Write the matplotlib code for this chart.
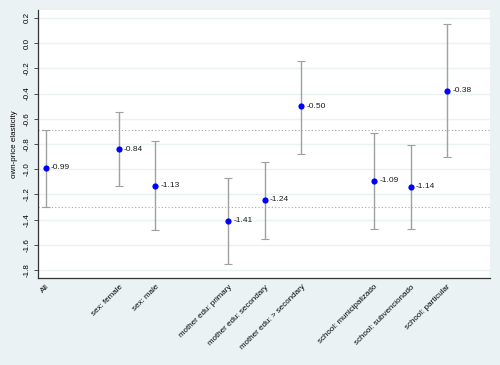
import numpy as np
import matplotlib.pyplot as plt

# ---------------------------------
# Data
# ---------------------------------
groups = ["All", "sex: female", "sex: male",
          "mother edu: primary", "mother edu: secondary", "mother edu: > secondary",
          "school: municipalizado", "school: subvencionado", "school: particular"]
positions = [0, 2, 3, 5, 6, 7, 9, 10, 11]
estimate = [-0.99, -0.84, -1.13, -1.41, -1.24, -0.50, -1.09, -1.14, -0.38]
ci_low = [-1.30, -1.13, -1.48, -1.75, -1.55, -0.88, -1.47, -1.47, -0.90]
ci_high = [-0.69, -0.55, -0.78, -1.07, -0.94, -0.14, -0.71, -0.81, 0.15]
yticks = [0.2, 0.0, -0.2, -0.4, -0.6, -0.8, -1.0, -1.2, -1.4, -1.6, -1.8]

plt.rcParams['font.family'] = ['Liberation Sans', 'DejaVu Sans']

bg = "#EAF2F3"
fig = plt.figure(figsize=(5, 3.65), dpi=100, facecolor=bg)
ax = fig.add_axes([0.076, 0.238, 0.904, 0.735])
ax.set_facecolor("white")

est = np.array(estimate)
lo = np.array(ci_low)
hi = np.array(ci_high)

# grid
for t in yticks:
    ax.axhline(t, color=bg, lw=1.0, zorder=0)

# reference lines at the CI of "All"
ax.axhline(ci_low[0], color="#a8a8a8", lw=0.8, ls=(0, (1, 2)), zorder=1)
ax.axhline(ci_high[0], color="#a8a8a8", lw=0.8, ls=(0, (1, 2)), zorder=1)

ax.errorbar(positions, est, yerr=[est - lo, hi - est], fmt="none",
            ecolor="#a0a0a0", elinewidth=1.0, capsize=3, capthick=0.8, zorder=2)
ax.scatter(positions, est, s=20, color="#0000ff", zorder=3, linewidths=0)

for x, v in zip(positions, estimate):
    ax.annotate(f"{v:.2f}", (x, v), xytext=(3.5, 0), textcoords="offset points",
                va="center", ha="left", fontsize=6, color="#1a1a1a")

ax.set_xlim(-0.22, 12.17)
ax.set_ylim(-1.863, 0.263)
ax.set_yticks(yticks)
ax.set_yticklabels([f"{t:.1f}" for t in yticks], rotation=90, va="center", fontsize=5.8)
ax.set_xticks(positions)
ax.set_xticklabels(groups, rotation=45, ha="right", rotation_mode="anchor", fontsize=5.8)
ax.tick_params(axis="y", length=3, width=0.6, color="#333333", pad=2)
ax.tick_params(axis="x", length=0, pad=4)
ax.set_ylabel("own-price elasticity", fontsize=5.8, labelpad=4)

for side in ["top", "right"]:
    ax.spines[side].set_visible(False)
for side in ["left", "bottom"]:
    ax.spines[side].set_color("#333333")
    ax.spines[side].set_linewidth(0.9)

fig.savefig("out.png", dpi=100, facecolor=bg)
